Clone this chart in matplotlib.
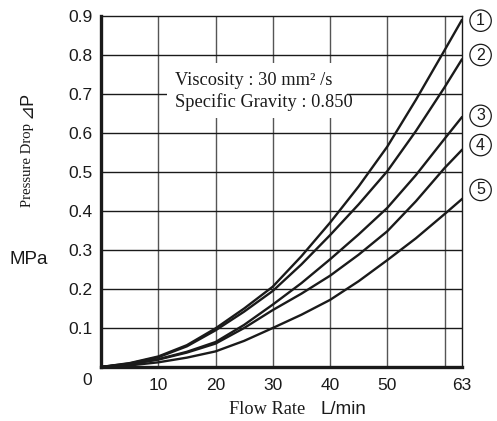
#!/usr/bin/env python3
# -*- coding: utf-8 -*-

import matplotlib
matplotlib.use("Agg")
import matplotlib.pyplot as plt
from matplotlib.patches import Rectangle

# ---- data (flow rate L/min vs pressure drop MPa) ----
flow = [0, 5, 10, 15, 20, 25, 30, 35, 40, 45, 50, 55, 60, 63]

curve1 = [0, 0.010, 0.027, 0.056, 0.099, 0.150, 0.206, 0.284, 0.370, 0.463, 0.565, 0.685, 0.812, 0.889]
curve2 = [0, 0.009, 0.025, 0.053, 0.094, 0.142, 0.195, 0.263, 0.338, 0.417, 0.502, 0.605, 0.717, 0.788]
curve3 = [0, 0.007, 0.020, 0.039, 0.064, 0.108, 0.160, 0.215, 0.276, 0.340, 0.408, 0.492, 0.585, 0.640]
curve4 = [0, 0.007, 0.019, 0.037, 0.060, 0.100, 0.146, 0.188, 0.234, 0.288, 0.348, 0.425, 0.510, 0.556]
curve5 = [0, 0.004, 0.012, 0.024, 0.040, 0.067, 0.100, 0.134, 0.172, 0.220, 0.274, 0.330, 0.392, 0.430]

curves = [curve1, curve2, curve3, curve4, curve5]
curve_labels = ["1", "2", "3", "4", "5"]

x_ticks = [10, 20, 30, 40, 50, 63]
y_ticks = [0.1, 0.2, 0.3, 0.4, 0.5, 0.6, 0.7, 0.8, 0.9]
x_grid = [10, 20, 30, 40, 50, 60]
y_grid = [0.1, 0.2, 0.3, 0.4, 0.5, 0.6, 0.7, 0.8]

SERIF = "Liberation Serif"
SANS = "Liberation Sans"
INK = "#1a1a1a"

fig = plt.figure(figsize=(4.97, 4.21), dpi=100)
ax = fig.add_axes([101 / 497, 1 - 367 / 421, 360.7 / 497, 351 / 421])
ax.set_xlim(0, 63)
ax.set_ylim(0, 0.9)

# grid: vertical lines grey, horizontal lines black
for gx in x_grid:
  ax.axvline(gx, color="#555555", linewidth=1.0, zorder=1)
for gy in y_grid:
  ax.axhline(gy, color=INK, linewidth=1.0, zorder=1)

for c in curves:
  ax.plot(flow, c, color=INK, linewidth=1.7, zorder=3, solid_joinstyle="round")

# spines
for side in ("left", "bottom"):
  ax.spines[side].set_linewidth(2.4)
for side in ("top", "right"):
  ax.spines[side].set_linewidth(1.0)
for s in ax.spines.values():
  s.set_color(INK)

ax.set_xticks(x_ticks)
ax.set_xticklabels([str(t) for t in x_ticks], fontsize=12.5, fontfamily=SANS)
ax.set_yticks(y_ticks)
ax.set_yticklabels([f"{t:.1f}" for t in y_ticks], fontsize=12.5, fontfamily=SANS)
ax.tick_params(length=0, pad=6, colors=INK)
ax.tick_params(axis="x", pad=8)

# shared zero at the corner
ax.text(-2.4, -0.035, "0", fontsize=12.5, fontfamily=SANS, ha="center", va="center",
        clip_on=False, color=INK)

# info box (white background over the grid)
ax.add_patch(Rectangle((11.5, 0.638), 31.4, 0.141, facecolor="white", edgecolor="none", zorder=2))
ax.text(12.9, 0.734, "Viscosity : 30 mm\u00b2 /s", fontsize=13.2, fontfamily=SERIF,
        ha="left", va="center", zorder=4, color=INK)
ax.text(12.9, 0.679, "Specific Gravity : 0.850", fontsize=13.2, fontfamily=SERIF,
        ha="left", va="center", zorder=4, color=INK)

# circled curve numbers on the right
label_y = [0.888, 0.800, 0.644, 0.569, 0.454]
for lab, ly in zip(curve_labels, label_y):
  ax.text(66.3, ly, lab, fontsize=11.5, fontfamily=SANS, ha="center", va="center",
          clip_on=False, color=INK,
          bbox=dict(boxstyle="circle,pad=0.2", facecolor="white", edgecolor=INK, linewidth=0.9))

# axis titles
fig.text(27 / 497, 1 - 165 / 421, "Pressure Drop", rotation=90, fontsize=10.6, fontfamily=SERIF,
         ha="center", va="center", color=INK)
fig.text(27 / 497, 1 - 104 / 421, "\u22bfP", rotation=90, fontsize=13,
         fontfamily=[SANS, "DejaVu Sans"], ha="center", va="center", color=INK)
fig.text(29 / 497, 1 - 260 / 421, "MPa", fontsize=13.5, fontfamily=SANS,
         ha="center", va="center", color=INK)
fig.text(267 / 497, 1 - 410 / 421, "Flow Rate", fontsize=13.2, fontfamily=SERIF,
         ha="center", va="center", color=INK)
fig.text(320 / 497, 1 - 410 / 421, "L/min", fontsize=13.5, fontfamily=SANS,
         ha="left", va="center", color=INK)

fig.savefig("out.png", dpi=100)
